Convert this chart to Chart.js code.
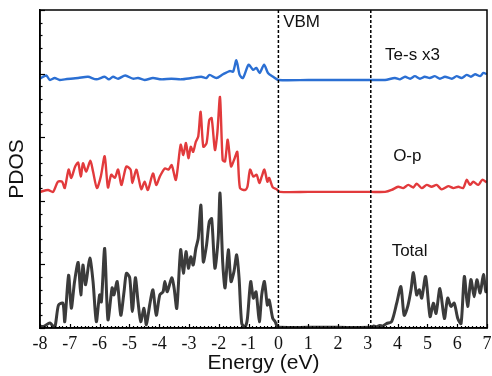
<!DOCTYPE html>
<html>
<head>
<meta charset="utf-8">
<script src="https://cdn.jsdelivr.net/npm/chart.js@4/dist/chart.umd.min.js"></script>
<style>
html,body{margin:0;padding:0;background:#fff;}
#wrap{width:492px;height:376px;}
</style>
</head>
<body>
<div id="wrap"><canvas id="c" width="492" height="376"></canvas></div>
<script>
// ---- data ----
const energyTotal = [-8.0,-7.85,-7.67,-7.51,-7.38,-7.23,-7.17,-7.04,-6.95,-6.84,-6.72,-6.63,-6.56,-6.47,-6.33,-6.22,-6.11,-6.00,-5.94,-5.83,-5.72,-5.58,-5.52,-5.41,-5.29,-5.18,-5.10,-4.99,-4.90,-4.80,-4.71,-4.62,-4.51,-4.43,-4.32,-4.21,-4.10,-3.98,-3.87,-3.81,-3.73,-3.58,-3.50,-3.41,-3.28,-3.19,-3.10,-3.02,-2.94,-2.86,-2.77,-2.69,-2.60,-2.52,-2.41,-2.32,-2.24,-2.13,-2.02,-1.96,-1.87,-1.79,-1.68,-1.59,-1.49,-1.40,-1.32,-1.23,-1.12,-1.04,-0.93,-0.84,-0.75,-0.64,-0.56,-0.47,-0.37,-0.31,-0.19,-0.11,-0.04,0.0,1.0,2.0,3.1,3.2,3.3,3.4,3.5,3.63,3.80,3.97,4.11,4.22,4.34,4.45,4.53,4.64,4.73,4.81,4.94,5.09,5.20,5.29,5.42,5.57,5.68,5.79,5.90,6.02,6.13,6.24,6.35,6.46,6.57,6.66,6.77,6.88,6.96,7.0];
const total = [0.02,0.03,0.08,0.0,0.36,0.39,0.10,0.83,0.31,0.73,1.03,0.52,0.99,0.68,1.10,0.73,0.10,0.52,0.41,1.25,0.13,0.63,0.52,0.73,0.20,0.57,0.86,0.79,0.26,0.79,0.41,0.10,0.31,0.05,0.36,0.60,0.20,0.52,0.57,0.73,0.57,0.79,0.63,0.31,1.23,0.86,1.20,0.94,1.12,0.99,1.25,1.41,1.93,1.04,1.31,1.67,1.72,0.94,1.41,2.12,1.04,0.63,1.23,0.73,0.89,1.15,0.79,0.07,0.02,0.15,0.73,0.47,0.57,0.10,0.52,0.73,0.36,0.44,0.15,0.10,0.02,0.01,0.01,0.01,0.01,0.03,0.02,0.04,0.03,0.07,0.10,0.39,0.65,0.20,0.34,0.60,0.87,0.52,0.60,0.47,0.81,0.18,0.39,0.23,0.62,0.15,0.47,0.34,0.39,0.15,0.07,0.81,0.34,0.76,0.49,0.76,0.55,0.84,0.57,0.60];

const energyOp = [-8.0,-7.73,-7.56,-7.40,-7.26,-7.17,-7.04,-6.95,-6.82,-6.72,-6.63,-6.56,-6.45,-6.31,-6.22,-6.09,-5.96,-5.83,-5.72,-5.61,-5.49,-5.38,-5.27,-5.18,-5.10,-4.96,-4.90,-4.77,-4.68,-4.60,-4.49,-4.38,-4.21,-4.10,-3.98,-3.81,-3.69,-3.58,-3.44,-3.28,-3.19,-3.10,-3.02,-2.94,-2.86,-2.77,-2.69,-2.61,-2.52,-2.41,-2.32,-2.24,-2.13,-2.05,-1.96,-1.87,-1.79,-1.70,-1.59,-1.49,-1.38,-1.29,-1.12,-1.04,-0.95,-0.84,-0.73,-0.64,-0.56,-0.47,-0.37,-0.31,-0.19,-0.06,0.05,1.0,2.0,3.1,3.58,3.80,4.02,4.19,4.36,4.53,4.64,4.81,4.98,5.14,5.31,5.48,5.70,5.87,6.04,6.20,6.32,6.43,6.54,6.71,6.84,6.99];
const oP = [0.0,0.03,0.0,0.16,0.16,0.06,0.35,0.22,0.40,0.46,0.24,0.45,0.32,0.49,0.32,0.06,0.24,0.56,0.07,0.27,0.22,0.35,0.11,0.27,0.40,0.35,0.14,0.35,0.19,0.04,0.16,0.03,0.29,0.11,0.24,0.37,0.35,0.42,0.19,0.74,0.58,0.77,0.53,0.71,0.63,0.79,0.87,1.26,0.71,0.77,1.13,1.16,0.66,0.92,1.49,0.50,0.48,0.82,0.40,0.50,0.63,0.06,0.03,0.08,0.35,0.24,0.27,0.14,0.24,0.35,0.16,0.22,0.07,0.04,0.0,0.0,0.0,0.0,0.0,0.03,0.08,0.06,0.11,0.07,0.13,0.06,0.11,0.08,0.11,0.04,0.09,0.06,0.08,0.06,0.19,0.11,0.16,0.11,0.19,0.15];

const energyTe = [-8.0,-7.79,-7.67,-7.51,-7.34,-7.17,-6.72,-6.39,-6.11,-5.83,-5.69,-5.55,-5.38,-5.14,-4.88,-4.71,-4.49,-4.21,-3.93,-3.59,-3.26,-2.92,-2.59,-2.42,-2.31,-2.08,-1.86,-1.63,-1.52,-1.41,-1.30,-1.19,-1.00,-0.85,-0.74,-0.63,-0.48,-0.35,-0.18,0.0,1.0,2.0,3.1,3.58,3.91,4.08,4.25,4.42,4.58,4.75,4.91,5.08,5.25,5.42,5.59,5.82,5.98,6.15,6.32,6.46,6.60,6.77,6.88,6.99];
const teS_x3 = [0.02,0.07,0.0,0.03,0.0,0.01,0.03,0.05,0.01,0.05,0.01,0.05,0.02,0.07,0.02,0.03,0.0,0.03,0.01,0.02,0.01,0.03,0.05,0.03,0.08,0.03,0.09,0.14,0.13,0.31,0.08,0.03,0.24,0.16,0.19,0.11,0.24,0.11,0.05,0.0,0.0,0.0,0.0,0.0,0.03,0.01,0.05,0.02,0.06,0.02,0.05,0.03,0.06,0.02,0.05,0.02,0.06,0.03,0.08,0.05,0.09,0.06,0.11,0.09];

const xTicks = [-8,-7,-6,-5,-4,-3,-2,-1,0,1,2,3,4,5,6,7];
const vbmEnergy = 0.0;
const cbmEnergy = 3.1;
const offsetOp = 2.14;
const offsetTe = 3.90;
const labelTexts = ['VBM','Te-s x3','O-p','Total'];
const labelE = [0.16, 3.58, 3.85, 3.80];
const labelV = [4.80, 4.28, 2.70, 1.21];

// ---- build datasets ----
const pts = (xs, ys, off) => xs.map((x,i)=>({x:x, y:ys[i]+off}));

const tickPlugin = {
  id:'inTicks',
  afterDraw(chart){
    const {ctx, chartArea:a, scales:{x, y}} = chart;
    ctx.save();
    ctx.strokeStyle = '#000';
    ctx.lineWidth = 1.2;
    for (let i=0;i<=25;i++){
      const v = i*0.2;
      const py = Math.round(y.getPixelForValue(v))+0.5;
      const len = (i%5===0)?5:2.5;
      ctx.beginPath(); ctx.moveTo(a.left, py); ctx.lineTo(a.left+len, py); ctx.stroke();
    }
    for (let i=0;i<=120;i++){
      const v = -8 + i*0.125;
      const px = Math.round(x.getPixelForValue(v))+0.5;
      const len = (i%8===0)?4:2;
      ctx.beginPath(); ctx.moveTo(px, a.bottom); ctx.lineTo(px, a.bottom-len); ctx.stroke();
    }
    ctx.lineWidth = 1.5;
    ctx.strokeRect(a.left, a.top, a.right-a.left, a.bottom-a.top);
    ctx.fillStyle = '#111';
    ctx.font = '17px "Liberation Sans", Arial, sans-serif';
    ctx.textAlign = 'left';
    ctx.textBaseline = 'middle';
    labelTexts.forEach((t,i)=>{
      ctx.fillText(t, x.getPixelForValue(labelE[i]), y.getPixelForValue(labelV[i]));
    });
    ctx.restore();
  }
};

new Chart(document.getElementById('c'), {
  type:'line',
  data:{
    datasets:[
      {label:'VBM', data:[{x:vbmEnergy,y:0},{x:vbmEnergy,y:5}], borderColor:'#000', borderWidth:1.5, borderDash:[3,2], pointRadius:0},
      {label:'CBM', data:[{x:cbmEnergy,y:0},{x:cbmEnergy,y:5}], borderColor:'#000', borderWidth:1.5, borderDash:[3,2], pointRadius:0},
      {label:'Total', data:pts(energyTotal,total,0), borderColor:'#3b3b3b', borderWidth:3, pointRadius:0, tension:0.25},
      {label:'O-p', data:pts(energyOp,oP,offsetOp), borderColor:'#e23a3c', borderWidth:2.4, pointRadius:0, tension:0.25},
      {label:'Te-s x3', data:pts(energyTe,teS_x3,offsetTe), borderColor:'#2b6fd3', borderWidth:2.4, pointRadius:0, tension:0.25}
    ]
  },
  options:{
    responsive:false,
    animation:false,
    devicePixelRatio:1,
    layout:{padding:{top:10,right:5,left:0,bottom:0}},
    plugins:{legend:{display:false}, tooltip:{enabled:false}},
    scales:{
      x:{
        type:'linear', min:-8, max:7,
        afterBuildTicks: s => { s.ticks = xTicks.map(v=>({value:v})); },
        ticks:{font:{family:'"Liberation Serif", "Times New Roman", serif', size:18}, color:'#111', padding:5, maxRotation:0, autoSkip:false},
        grid:{display:false, drawTicks:false},
        border:{display:true, color:'#000', width:1.5},
        title:{display:true, text:'Energy (eV)', font:{family:'"Liberation Sans", Arial, sans-serif', size:21}, color:'#111', padding:{top:0,bottom:0}},
        afterFit: s => { s.height = 48; s.paddingLeft = 0; s.paddingRight = 0; }
      },
      y:{
        min:0, max:5,
        ticks:{display:false},
        grid:{display:false, drawTicks:false},
        border:{display:true, color:'#000', width:1.5},
        title:{display:true, text:'PDOS', font:{family:'"Liberation Sans", Arial, sans-serif', size:21}, color:'#111', padding:{top:5,bottom:0}},
        afterFit: s => { s.width = 40; s.paddingTop = 0; s.paddingBottom = 0; }
      }
    }
  },
  plugins:[tickPlugin]
});
</script>
</body>
</html>
